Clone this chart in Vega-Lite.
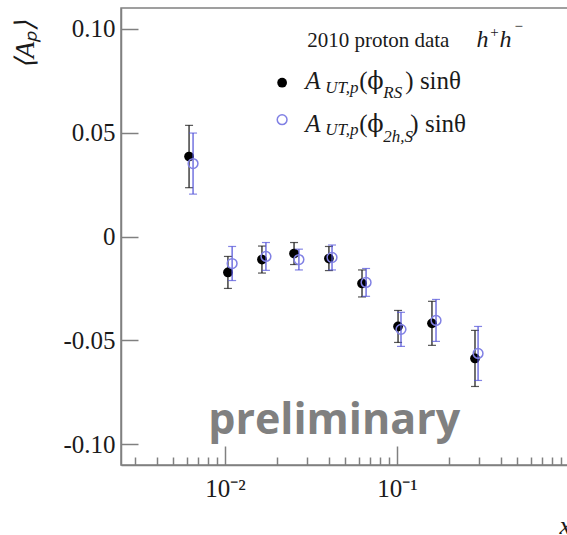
{
  "$schema": "https://vega.github.io/schema/vega-lite/v6.json",
  "width": 448,
  "height": 457,
  "autosize": {"type": "none"},
  "padding": {"left": 121, "top": 8, "right": 0, "bottom": 70},
  "background": "white",
  "config": {
    "view": {"stroke": "#808080", "strokeWidth": 1.5},
    "font": "Liberation Serif"
  },
  "datasets": {
    "points": [
      {"series": "RS", "x": 0.00618, "y": 0.0385, "err": 0.015},
      {"series": "RS", "x": 0.0104, "y": -0.0173, "err": 0.0077},
      {"series": "RS", "x": 0.0164, "y": -0.0111, "err": 0.0065},
      {"series": "RS", "x": 0.0252, "y": -0.0082, "err": 0.0053},
      {"series": "RS", "x": 0.0402, "y": -0.0106, "err": 0.0058},
      {"series": "RS", "x": 0.0626, "y": -0.0226, "err": 0.0065},
      {"series": "RS", "x": 0.1014, "y": -0.0433, "err": 0.0077},
      {"series": "RS", "x": 0.1597, "y": -0.0418, "err": 0.0106},
      {"series": "RS", "x": 0.2841, "y": -0.0587, "err": 0.0135},
      {"series": "2hS", "x": 0.00652, "y": 0.0351, "err": 0.0147},
      {"series": "2hS", "x": 0.011, "y": -0.013, "err": 0.0082},
      {"series": "2hS", "x": 0.0173, "y": -0.0096, "err": 0.0067},
      {"series": "2hS", "x": 0.0269, "y": -0.0111, "err": 0.005},
      {"series": "2hS", "x": 0.0419, "y": -0.0101, "err": 0.006},
      {"series": "2hS", "x": 0.0661, "y": -0.0221, "err": 0.0067},
      {"series": "2hS", "x": 0.1055, "y": -0.0447, "err": 0.0082},
      {"series": "2hS", "x": 0.1686, "y": -0.0404, "err": 0.0101},
      {"series": "2hS", "x": 0.296, "y": -0.0563, "err": 0.013}
    ],
    "notes": [
      {"part": "head", "text": "2010 proton data", "x": 0.03003, "y": 0.09135},
      {"part": "headi", "text": "h", "x": 0.2896, "y": 0.09135},
      {"part": "headi", "text": "h", "x": 0.3942, "y": 0.09135},
      {"part": "sup", "text": "+", "x": 0.348, "y": 0.0959},
      {"part": "sup", "text": "−", "x": 0.4821, "y": 0.099},
      {"part": "A", "text": "A", "x": 0.02924, "y": 0.07115},
      {"part": "A", "text": "A", "x": 0.02924, "y": 0.05048},
      {"part": "sub", "text": "UT,p", "x": 0.03823, "y": 0.06923},
      {"part": "sub", "text": "UT,p", "x": 0.03823, "y": 0.04904},
      {"part": "plain", "text": "(", "x": 0.06031, "y": 0.07115},
      {"part": "plain", "text": "(", "x": 0.06031, "y": 0.05048},
      {"part": "phi", "text": "ϕ", "x": 0.06705, "y": 0.07115},
      {"part": "phi", "text": "ϕ", "x": 0.06705, "y": 0.05048},
      {"part": "sub", "text": "RS", "x": 0.08322, "y": 0.06683},
      {"part": "sub", "text": "2h,S", "x": 0.08322, "y": 0.04567},
      {"part": "plain", "text": ") sinθ", "x": 0.11177, "y": 0.07115},
      {"part": "plain", "text": ") sinθ", "x": 0.11954, "y": 0.05048},
      {"part": "wm", "text": "preliminary", "x": 0.04313, "y": -0.0952},
      {"part": "dotRS", "text": "", "x": 0.02148, "y": 0.07404},
      {"part": "dot2h", "text": "", "x": 0.02148, "y": 0.05625}
    ]
  },
  "layer": [
    {
      "data": {"name": "points"},
      "mark": {"type": "rule", "strokeDash": [4, 3], "color": "#555555", "strokeWidth": 1},
      "encoding": {
        "x": {
          "field": "x",
          "type": "quantitative",
          "title": "x",
          "scale": {"type": "log", "domain": [0.002485, 1], "nice": false},
          "axis": {
            "values": [0.003, 0.004, 0.005, 0.006, 0.007, 0.008, 0.009, 0.01, 0.02, 0.03, 0.04, 0.05, 0.06, 0.07, 0.08, 0.09, 0.1, 0.2, 0.3, 0.4, 0.5, 0.6, 0.7, 0.8, 0.9, 1],
            "labelExpr": "abs(datum.value - 0.01) < 1e-9 ? '10⁻²' : abs(datum.value - 0.1) < 1e-9 ? '10⁻¹' : ''",
            "tickSize": {"condition": {"test": "abs(datum.value - 0.01) < 1e-9 || abs(datum.value - 0.1) < 1e-9 || abs(datum.value - 1) < 1e-9", "value": -19}, "value": -8},
            "labelPadding": 30,
            "labelFont": "Liberation Serif",
            "labelFontSize": 25,
            "labelColor": "#1a1a1a",
            "labelOverlap": false,
            "labelFlush": false,
            "domainColor": "#808080",
            "domainWidth": 1.5,
            "tickColor": "#808080",
            "tickWidth": 1.5,
            "grid": false,
            "titleFont": "Liberation Serif",
            "titleFontStyle": "italic",
            "titleFontWeight": "normal",
            "titleFontSize": 26,
            "titleColor": "#1a1a1a",
            "titleX": 438,
            "titleY": 68,
            "titleAlign": "left",
            "titleBaseline": "alphabetic"
          }
        },
        "y": {
          "datum": 0,
          "type": "quantitative",
          "title": "⟨Aₚ⟩",
          "scale": {"domain": [-0.11, 0.11], "nice": false, "zero": false},
          "axis": {
            "values": [-0.1, -0.05, 0, 0.05, 0.1],
            "labelExpr": "datum.value == 0 ? '0' : replace(format(datum.value, '.2f'), '−', '-')",
            "tickSize": -17,
            "labelPadding": 23,
            "labelFont": "Liberation Serif",
            "labelFontSize": 25,
            "labelColor": "#1a1a1a",
            "domainColor": "#808080",
            "domainWidth": 1.5,
            "tickColor": "#808080",
            "tickWidth": 1.5,
            "grid": false,
            "titleFont": "Liberation Serif",
            "titleFontStyle": "italic",
            "titleFontWeight": "normal",
            "titleFontSize": 27,
            "titleColor": "#1a1a1a",
            "titleAngle": -90,
            "titleX": -96,
            "titleY": 36,
            "titleAlign": "center",
            "titleBaseline": "middle"
          }
        }
      }
    },
    {
      "data": {"name": "points"},
      "transform": [{"filter": "datum.series == 'RS'"}],
      "mark": {"type": "errorbar", "color": "#111111", "thickness": 1.2, "ticks": {"size": 8}},
      "encoding": {
        "x": {"field": "x", "type": "quantitative", "title": "x"},
        "y": {"field": "y", "type": "quantitative", "title": "⟨Aₚ⟩"},
        "yError": {"field": "err"}
      }
    },
    {
      "data": {"name": "points"},
      "transform": [{"filter": "datum.series == 'RS'"}],
      "mark": {"type": "point", "shape": "circle", "filled": true, "color": "black", "opacity": 1, "size": 95},
      "encoding": {
        "x": {"field": "x", "type": "quantitative", "title": "x"},
        "y": {"field": "y", "type": "quantitative", "title": "⟨Aₚ⟩"}
      }
    },
    {
      "data": {"name": "points"},
      "transform": [{"filter": "datum.series == '2hS'"}],
      "mark": {"type": "errorbar", "color": "#5050d8", "thickness": 1.2, "ticks": {"size": 8}},
      "encoding": {
        "x": {"field": "x", "type": "quantitative", "title": "x"},
        "y": {"field": "y", "type": "quantitative", "title": "⟨Aₚ⟩"},
        "yError": {"field": "err"}
      }
    },
    {
      "data": {"name": "points"},
      "transform": [{"filter": "datum.series == '2hS'"}],
      "mark": {"type": "point", "shape": "circle", "filled": false, "stroke": "#8080e4", "strokeWidth": 1.5, "opacity": 1, "size": 95},
      "encoding": {
        "x": {"field": "x", "type": "quantitative", "title": "x"},
        "y": {"field": "y", "type": "quantitative", "title": "⟨Aₚ⟩"}
      }
    },
    {
      "data": {"name": "notes"},
      "transform": [{"filter": "datum.part == 'dotRS'"}],
      "mark": {"type": "point", "shape": "circle", "filled": true, "color": "black", "opacity": 1, "size": 95},
      "encoding": {
        "x": {"field": "x", "type": "quantitative", "title": "x"},
        "y": {"field": "y", "type": "quantitative", "title": "⟨Aₚ⟩"}
      }
    },
    {
      "data": {"name": "notes"},
      "transform": [{"filter": "datum.part == 'dot2h'"}],
      "mark": {"type": "point", "shape": "circle", "filled": false, "stroke": "#8080e4", "strokeWidth": 1.5, "opacity": 1, "size": 95},
      "encoding": {
        "x": {"field": "x", "type": "quantitative", "title": "x"},
        "y": {"field": "y", "type": "quantitative", "title": "⟨Aₚ⟩"}
      }
    },
    {
      "data": {"name": "notes"},
      "transform": [{"filter": "datum.part == 'head'"}],
      "mark": {"type": "text", "align": "left", "baseline": "alphabetic", "font": "Liberation Serif", "fontSize": 21, "color": "#1a1a1a"},
      "encoding": {
        "x": {"field": "x", "type": "quantitative", "title": "x"},
        "y": {"field": "y", "type": "quantitative", "title": "⟨Aₚ⟩"},
        "text": {"field": "text"}
      }
    },
    {
      "data": {"name": "notes"},
      "transform": [{"filter": "datum.part == 'headi'"}],
      "mark": {"type": "text", "align": "left", "baseline": "alphabetic", "font": "Liberation Serif", "fontStyle": "italic", "fontSize": 24, "color": "#1a1a1a"},
      "encoding": {
        "x": {"field": "x", "type": "quantitative", "title": "x"},
        "y": {"field": "y", "type": "quantitative", "title": "⟨Aₚ⟩"},
        "text": {"field": "text"}
      }
    },
    {
      "data": {"name": "notes"},
      "transform": [{"filter": "datum.part == 'sup'"}],
      "mark": {"type": "text", "align": "left", "baseline": "alphabetic", "font": "Liberation Serif", "fontSize": 15, "color": "#1a1a1a"},
      "encoding": {
        "x": {"field": "x", "type": "quantitative", "title": "x"},
        "y": {"field": "y", "type": "quantitative", "title": "⟨Aₚ⟩"},
        "text": {"field": "text"}
      }
    },
    {
      "data": {"name": "notes"},
      "transform": [{"filter": "datum.part == 'A'"}],
      "mark": {"type": "text", "align": "left", "baseline": "alphabetic", "font": "Liberation Serif", "fontStyle": "italic", "fontSize": 25, "color": "#1a1a1a"},
      "encoding": {
        "x": {"field": "x", "type": "quantitative", "title": "x"},
        "y": {"field": "y", "type": "quantitative", "title": "⟨Aₚ⟩"},
        "text": {"field": "text"}
      }
    },
    {
      "data": {"name": "notes"},
      "transform": [{"filter": "datum.part == 'sub'"}],
      "mark": {"type": "text", "align": "left", "baseline": "alphabetic", "font": "Liberation Serif", "fontStyle": "italic", "fontSize": 17, "color": "#1a1a1a"},
      "encoding": {
        "x": {"field": "x", "type": "quantitative", "title": "x"},
        "y": {"field": "y", "type": "quantitative", "title": "⟨Aₚ⟩"},
        "text": {"field": "text"}
      }
    },
    {
      "data": {"name": "notes"},
      "transform": [{"filter": "datum.part == 'plain'"}],
      "mark": {"type": "text", "align": "left", "baseline": "alphabetic", "font": "Liberation Serif", "fontSize": 25, "color": "#1a1a1a"},
      "encoding": {
        "x": {"field": "x", "type": "quantitative", "title": "x"},
        "y": {"field": "y", "type": "quantitative", "title": "⟨Aₚ⟩"},
        "text": {"field": "text"}
      }
    },
    {
      "data": {"name": "notes"},
      "transform": [{"filter": "datum.part == 'phi'"}],
      "mark": {"type": "text", "align": "left", "baseline": "alphabetic", "font": "DejaVu Serif", "fontSize": 24, "color": "#1a1a1a"},
      "encoding": {
        "x": {"field": "x", "type": "quantitative", "title": "x"},
        "y": {"field": "y", "type": "quantitative", "title": "⟨Aₚ⟩"},
        "text": {"field": "text"}
      }
    },
    {
      "data": {"name": "notes"},
      "transform": [{"filter": "datum.part == 'wm'"}],
      "mark": {"type": "text", "align": "center", "baseline": "alphabetic", "font": "Open Sans", "fontWeight": "bold", "fontSize": 43, "color": "#808080"},
      "encoding": {
        "x": {"field": "x", "type": "quantitative", "title": "x"},
        "y": {"field": "y", "type": "quantitative", "title": "⟨Aₚ⟩"},
        "text": {"field": "text"}
      }
    }
  ]
}
